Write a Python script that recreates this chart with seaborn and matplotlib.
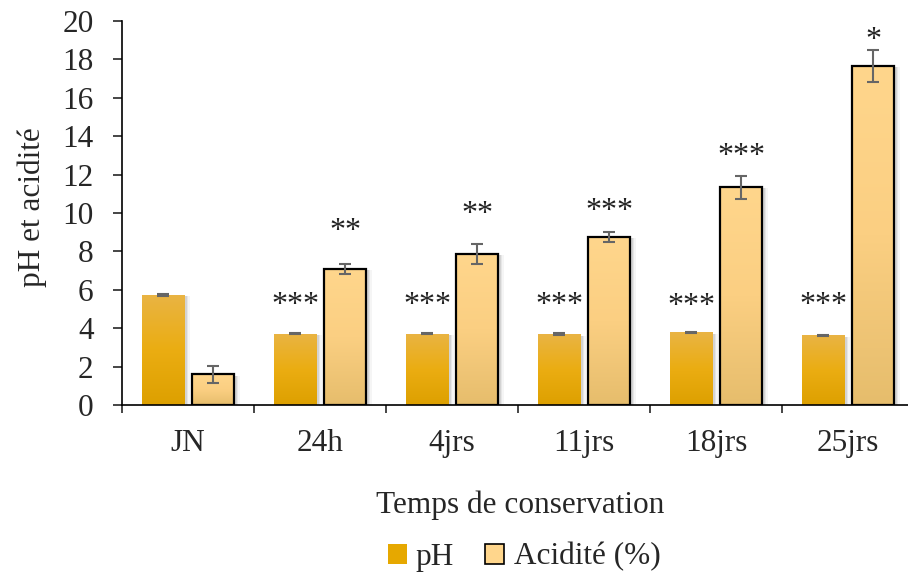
import numpy as np
import pandas as pd
import matplotlib
matplotlib.use("Agg")
import matplotlib.pyplot as plt
import matplotlib.patheffects as pe
from matplotlib.patches import Rectangle, Patch
from matplotlib.colors import LinearSegmentedColormap
import seaborn as sns

# data
categories = ["JN", "24h", "4jrs", "11jrs", "18jrs", "25jrs"]
ph = [5.73, 3.72, 3.72, 3.68, 3.78, 3.62]
ph_err = [0.04, 0.03, 0.03, 0.05, 0.03, 0.03]
acid = [1.6, 7.08, 7.86, 8.75, 11.35, 17.66]
acid_err = [0.45, 0.25, 0.5, 0.25, 0.6, 0.85]
ph_sig = ["", "***", "***", "***", "***", "***"]
acid_sig = ["", "**", "**", "***", "***", "*"]
ph_sig_y = [0, 5.65, 5.65, 5.65, 5.6, 5.65]
acid_sig_y = [0, 9.5, 10.4, 10.55, 13.4, 19.45]
yticks = list(range(0, 21, 2))
series = ["pH", "Acidité (%)"]

sns.set_style("white")
plt.rcParams["font.family"] = ["Liberation Serif", "DejaVu Serif"]
fs = 22.5

df = pd.DataFrame({
    "cat": categories * 2,
    "val": ph + acid,
    "serie": [series[0]] * 6 + [series[1]] * 6,
})

ph_cmap = LinearSegmentedColormap.from_list("ph", ["#DDA000", "#EBAD12", "#E9B444"])
ac_cmap = LinearSegmentedColormap.from_list("ac", ["#E6BD6C", "#FBCF82", "#FFD68C"])

fig = plt.figure(figsize=(9.08, 5.8), dpi=100)
ax = fig.add_axes([122 / 908, 175 / 580, 792 / 908, 384 / 580])

sns.barplot(data=df, x="cat", y="val", hue="serie", order=categories,
            hue_order=series, palette=["#E6A800", "#FFD68C"], width=0.758,
            gap=0.16, errorbar=None, legend=False, ax=ax)

grad = np.linspace(0, 1, 256).reshape(-1, 1)
shadow = [pe.SimplePatchShadow(offset=(o, -1), shadow_rgbFace="k", alpha=a)
          for o, a in [(4, 0.04), (3, 0.06), (2, 0.08), (1, 0.08)]] + [pe.Normal()]

for k, (cont, cmap, errs, sigs, sig_y) in enumerate(zip(
        ax.containers, [ph_cmap, ac_cmap], [ph_err, acid_err],
        [ph_sig, acid_sig], [ph_sig_y, acid_sig_y])):
    xs, tops = [], []
    for bar, lab, sy in zip(cont, sigs, sig_y):
        x, w, h = bar.get_x(), bar.get_width(), bar.get_height()
        bar.set_path_effects(shadow)
        bar.set_edgecolor("none")
        im = ax.imshow(grad, cmap=cmap, origin="lower", aspect="auto",
                       extent=[x, x + w, 0, h], zorder=bar.get_zorder() + 0.1)
        im.set_clip_path(bar)
        if k == 1:
            ax.add_patch(Rectangle((x, 0), w, h, fill=False, edgecolor="black",
                                   lw=1.6, zorder=bar.get_zorder() + 0.2))
        xs.append(x + w / 2)
        tops.append(h)
        if lab:
            ax.text(x + w / 2, sy - 0.85, lab, ha="center", va="baseline",
                    fontsize=23, color="#222222")
    ax.errorbar(xs, tops, yerr=errs, fmt="none", ecolor="#666666",
                elinewidth=1.5, capsize=4.5, capthick=1.5, zorder=6)

ax.set_xlim(-0.5, 5.5)
ax.set_ylim(0, 20)
ax.set_yticks(yticks)
ax.set_xticks(range(len(categories)))
ax.set_xticklabels(categories)
ax.set_xticks(np.arange(-0.5, 6, 1), minor=True)
ax.tick_params(axis="x", which="major", length=0, pad=17, labelsize=fs)
ax.tick_params(axis="x", which="minor", length=6, width=1.2, direction="out",
               bottom=True)
ax.tick_params(axis="y", length=6.5, width=1.2, direction="out", pad=14,
               labelsize=fs, left=True)
ax.set_xlabel("")
ax.set_ylabel("")
for s in ["top", "right"]:
    ax.spines[s].set_visible(False)
for s in ["left", "bottom"]:
    ax.spines[s].set_color("black")
    ax.spines[s].set_linewidth(1.2)

fig.text(520 / 908, 1 - 505 / 580, "Temps de conservation", ha="center",
         va="center", fontsize=fs)
fig.text(32 / 908, 1 - 207 / 580, "pH et acidité", ha="center", va="center",
         rotation=90, fontsize=fs)

handles = [Patch(facecolor="#E6A800", edgecolor="none"),
           Patch(facecolor="#FFD68C", edgecolor="black", lw=1.2)]
fig.legend(handles, series, loc="center", bbox_to_anchor=(524 / 908, 1 - 557 / 580),
           ncol=2, frameon=False, fontsize=fs, handlelength=0.6,
           handleheight=0.6, handletextpad=0.3, columnspacing=1.0)

fig.savefig("out.png", dpi=100)
